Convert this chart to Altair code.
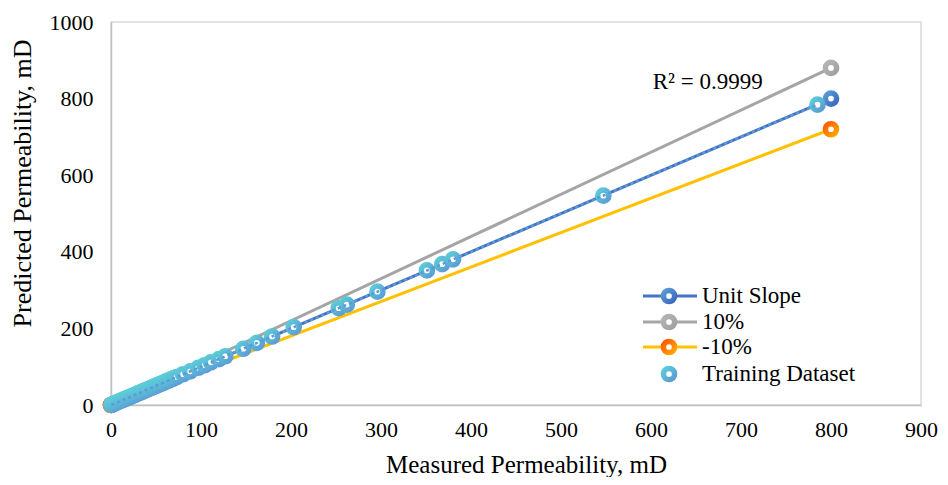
import altair as alt
import pandas as pd

# ---------------- data ----------------
meas = [0.5, 1.5, 3, 4.5, 6, 8, 10, 12, 14, 16, 18, 20, 22, 24, 26, 28, 30, 32, 34, 36,
        38, 40, 42, 44, 46, 48, 50, 52, 54, 56, 58, 60, 62, 64, 66, 68, 70, 73, 80, 88,
        97, 104, 111, 120, 127, 147, 162, 179, 203, 253, 262, 296, 351, 368, 380, 547, 785]
pred = [0.6, 1.4, 3.1, 4.4, 6.1, 7.9, 10.1, 11.9, 14.2, 15.9, 18.1, 19.8, 22.2, 23.9, 26.1,
        27.8, 30.2, 31.9, 34.1, 35.8, 38.2, 39.9, 42.1, 43.8, 46.2, 47.9, 50.1, 51.8, 54.2,
        55.9, 58.1, 59.8, 62.2, 63.9, 66.1, 67.8, 70.2, 72.9, 80.3, 87.8, 97.2, 103.8, 111.3,
        119.7, 127.2, 146.8, 162.3, 178.8, 203.2, 252.7, 262.3, 295.8, 351.4, 367.6, 380.3,
        546.5, 784.2]
line_x = [0, 800]
unit_y = [0, 800]
plus_y = [0, 880]
minus_y = [0, 720]
legend_labels = ["Unit Slope", "10%", "-10%", "Training Dataset"]
x_ticks = [0, 100, 200, 300, 400, 500, 600, 700, 800, 900]
y_ticks = [0, 200, 400, 600, 800, 1000]
r2_label = "R² = 0.9999"
r2_pos = (663, 843)

FONT = "Liberation Serif"

def grad(c1, c2):
    return {"gradient": "linear", "x1": 0, "y1": 0, "x2": 1, "y2": 1,
            "stops": [{"offset": 0, "color": c1}, {"offset": 1, "color": c2}]}

C_UNIT = "#4472C4"
G_UNIT = grad("#5B9BD5", "#3A68BF")
C_PLUS = "#A5A5A5"
G_PLUS = grad("#B5B5B5", "#A0A0A0")
C_MINUS = "#FFC000"
G_MINUS = grad("#FF5A00", "#FFA800")
G_TRAIN = grad("#5CCCD8", "#5B9BD5")

xs = alt.Scale(domain=[0, 900], nice=False, zero=False)
ys = alt.Scale(domain=[0, 1000], nice=False, zero=False)
xa = alt.Axis(values=x_ticks, format="d", title="Measured Permeability, mD", grid=False, ticks=False,
              labelFont=FONT, labelFontSize=22, labelColor="#000000", labelPadding=14,
              titleFont=FONT, titleFontSize=25, titleFontWeight="normal", titleColor="#000000",
              titleX=415, titleY=59, titleBaseline="middle",
              domainColor="#BFBFBF", domainWidth=1.5, labelFlush=False)
ya = alt.Axis(values=y_ticks, format="d", title="Predicted Permeability, mD", grid=False, ticks=False,
              labelFont=FONT, labelFontSize=22, labelColor="#000000", labelPadding=18,
              titleFont=FONT, titleFontSize=26, titleFontWeight="normal", titleColor="#000000",
              titleX=-89, titleY=161, titleBaseline="middle", titleAngle=-90,
              domainColor="#BFBFBF", domainWidth=1.5, labelFlush=False)

def X(f):
    return alt.X(f, type="quantitative", scale=xs, axis=xa)

def Y(f):
    return alt.Y(f, type="quantitative", scale=ys, axis=ya)

unit_df = pd.DataFrame({"x": line_x, "y": unit_y})
plus_df = pd.DataFrame({"x": line_x, "y": plus_y})
minus_df = pd.DataFrame({"x": line_x, "y": minus_y})
train_df = pd.DataFrame({"meas": meas, "pred": pred})

MS = 125
MW = 5.5

layers = []
for df, c in [(unit_df, C_UNIT), (plus_df, C_PLUS), (minus_df, C_MINUS)]:
    layers.append(alt.Chart(df).mark_line(color=c, strokeWidth=3).encode(x=X("x"), y=Y("y")))
for df, g in [(unit_df, G_UNIT), (plus_df, G_PLUS), (minus_df, G_MINUS)]:
    layers.append(alt.Chart(df).mark_point(shape="circle", size=MS, strokeWidth=MW, fill="white",
                                           fillOpacity=1, opacity=1, stroke=g)
                  .encode(x=X("x"), y=Y("y")))
layers.append(alt.Chart(train_df).mark_point(shape="circle", size=MS, strokeWidth=MW, fill="white",
                                             fillOpacity=1, opacity=1, stroke=G_TRAIN)
              .encode(x=X("meas"), y=Y("pred")))
layers.append(alt.Chart(train_df).transform_regression("meas", "pred", method="linear")
              .mark_line(color="#5B9BD5", strokeWidth=2.5, strokeDash=[3, 3])
              .encode(x=X("meas"), y=Y("pred")))
layers.append(alt.Chart(pd.DataFrame({"x": [r2_pos[0]], "y": [r2_pos[1]], "t": [r2_label]}))
              .mark_text(font=FONT, fontSize=23, color="#000000", align="center", baseline="middle")
              .encode(x=X("x"), y=Y("y"), text="t:N"))

# ---------------- legend ----------------
rows_y = [274, 300, 325, 352]
leg_lines = [C_UNIT, C_PLUS, C_MINUS, None]
leg_marks = [G_UNIT, G_PLUS, G_MINUS, G_TRAIN]
for lab, yy, lc, mg in zip(legend_labels, rows_y, leg_lines, leg_marks):
    ldf = pd.DataFrame({"label": [lab]})
    if lc is not None:
        layers.append(alt.Chart(ldf).mark_rule(color=lc, strokeWidth=3)
                      .encode(x=alt.value(532), x2=alt.value(586), y=alt.value(yy)))
    layers.append(alt.Chart(ldf).mark_point(shape="circle", size=MS, strokeWidth=MW, fill="white",
                                            fillOpacity=1, opacity=1, stroke=mg)
                  .encode(x=alt.value(558), y=alt.value(yy)))
    layers.append(alt.Chart(ldf).mark_text(font=FONT, fontSize=23, color="#000000", align="left",
                                           baseline="middle")
                  .encode(x=alt.value(591), y=alt.value(yy), text="label:N"))

chart = alt.layer(*layers).properties(
    width=810, height=383,
    autosize=alt.AutoSizeParams(type="none"),
    padding={"left": 103, "top": 14, "right": 18, "bottom": 72},
    background="white",
).configure_view(stroke="#D9D9D9", strokeWidth=1.5)

chart.save("out.html", embed_options={"renderer": "svg", "actions": False})
